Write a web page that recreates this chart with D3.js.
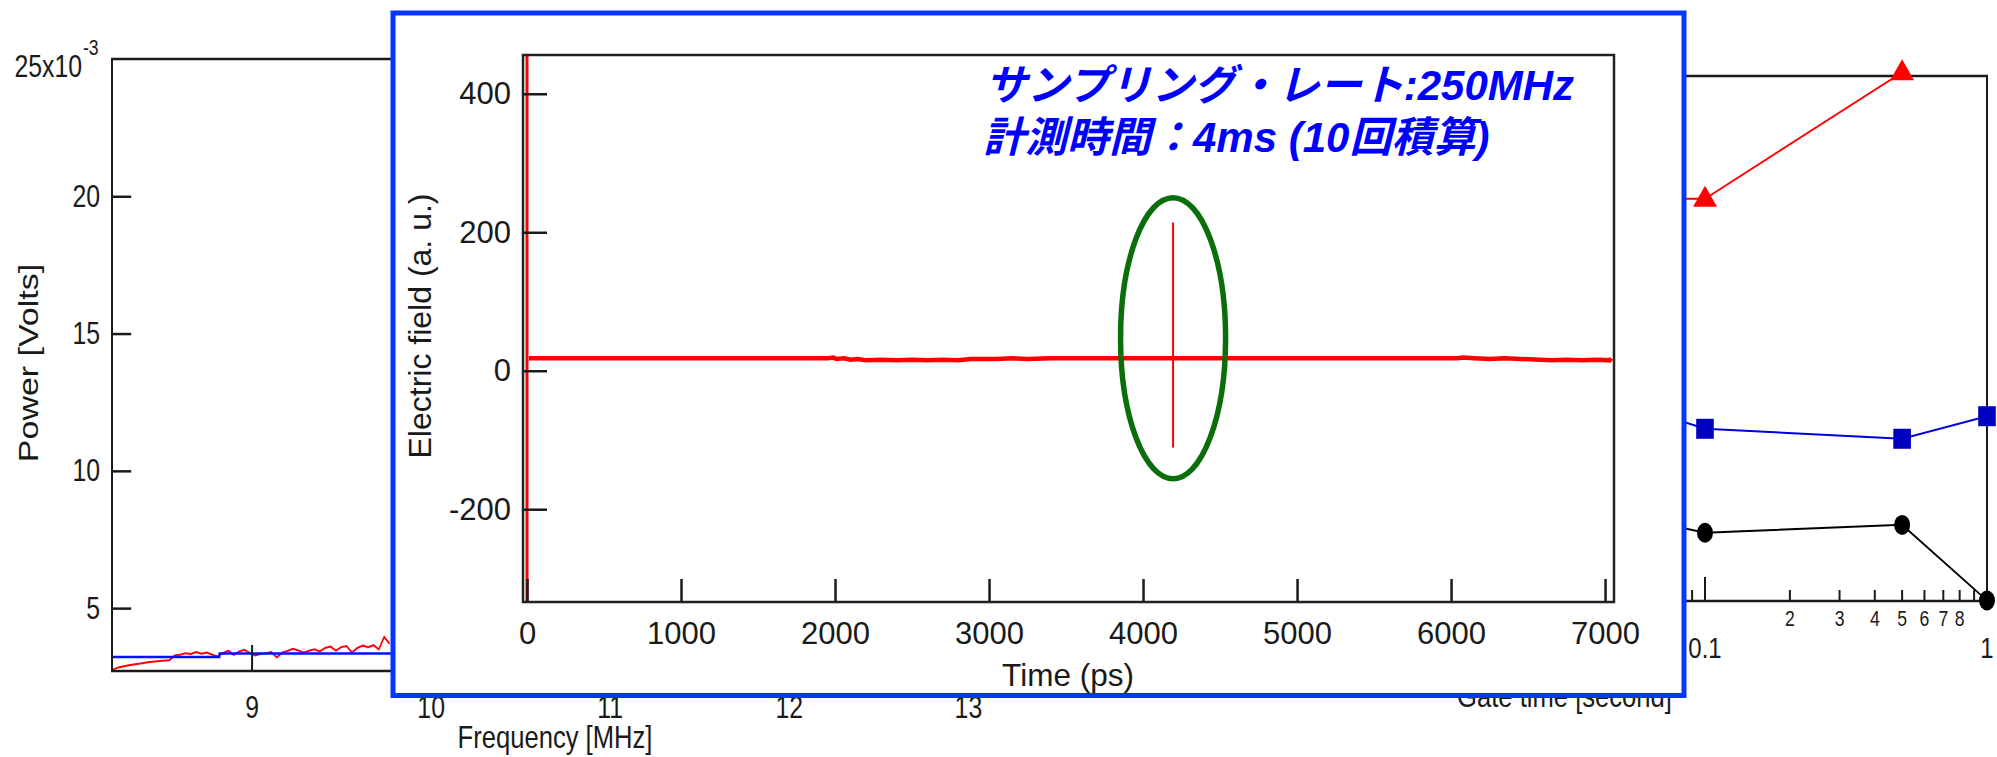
<!DOCTYPE html>
<html><head><meta charset="utf-8">
<script src="https://cdn.jsdelivr.net/npm/d3@7"></script>
<style>html,body{margin:0;padding:0;background:#fff;overflow:hidden}</style>
</head><body>
<svg id="c" width="1997" height="757"></svg>
<script>
// ================= DATA =================
// Background left chart: spectrum (Power in 10^-3 V vs Frequency MHz)
const specFreq = [8.22, 8.26, 8.30, 8.34, 8.38, 8.42, 8.46, 8.50, 8.54,
  8.57, 8.60, 8.63, 8.66, 8.69, 8.72, 8.75, 8.78, 8.81, 8.84,
  8.87, 8.90, 8.93, 8.96, 8.99, 9.02, 9.05, 9.08, 9.11, 9.14,
  9.17, 9.20, 9.23, 9.26, 9.29, 9.32, 9.35, 9.38, 9.41, 9.44,
  9.47, 9.50, 9.53, 9.56, 9.59, 9.62, 9.65, 9.68, 9.71, 9.74, 9.77];
const specPower = [2.75, 2.85, 2.90, 2.95, 2.98, 3.03, 3.06, 3.08, 3.10,
  3.28, 3.30, 3.36, 3.33, 3.40, 3.34, 3.38, 3.30, 3.24, 3.36,
  3.45, 3.30, 3.42, 3.48, 3.36, 3.28, 3.34, 3.36, 3.40, 3.20,
  3.38, 3.44, 3.52, 3.46, 3.38, 3.45, 3.50, 3.42, 3.55, 3.60,
  3.45, 3.58, 3.62, 3.38, 3.55, 3.64, 3.58, 3.65, 3.50, 3.95, 3.70];
const baseFreq = [8.22, 8.82, 8.82, 13.17];
const basePower = [3.22, 3.22, 3.35, 3.35];
const specXTicks = [9, 10, 11, 12, 13];
const specYTicks = [5, 10, 15, 20];

// Background right chart: vs gate time (hidden y axis, arbitrary units 0-100)
const gateRedT = [0.05, 0.1, 0.5];
const gateRedV = [76.6, 76.6, 100.7];
const gateBlueT = [0.05, 0.1, 0.5, 1];
const gateBlueV = [38.0, 32.8, 30.9, 35.2];
const gateBlackT = [0.05, 0.1, 0.5, 1];
const gateBlackV = [16.5, 13.0, 14.5, 0.1];
const gateMajor = [0.001, 0.01, 0.1, 1];
const gateMajorShown = [0.1, 1];
const gateMajorLabels = ["0.1", "1"];
const gateMinorDigits = [2, 3, 4, 5, 6, 7, 8, 9];
const gateMinorLabeled = [2, 3, 4, 5, 6, 7, 8];

// Inset: electric field trace (a.u.) vs time (ps)
const traceTime  = [12, 1950, 1990, 2010, 2060, 2100, 2150, 2200, 2300, 2400, 2500, 2600, 2700, 2800,
  2880, 2950, 3050, 3150, 3250, 3400, 6040, 6080, 6150, 6250, 6350, 6450, 6580, 6650, 6750, 6850, 6950, 7030, 7040];
const traceField = [18, 18, 19, 17, 18, 16, 17, 15, 16, 15, 16, 15, 16, 15,
  17, 17, 17, 18, 17, 18, 18, 19, 18, 17, 18, 17, 16, 15, 16, 15, 16, 15, 18];
const spikeTime = [0, 4195];
const spikeMax = [460, 214];
const spikeMin = [-340, -111];
const spikeWidth = [3, 2];
const insetXTicks = [0, 1000, 2000, 3000, 4000, 5000, 6000, 7000];
const insetYTicks = [-200, 0, 200, 400];
const highlight = {t: 4195, v: 47, rt: 341, rv: 203};
const notes = ["サンプリング・レート:250MHz", "計測時間：4ms (10回積算)"];

// ================= DRAW =================
const svg = d3.select('#c');
const FONT = '"Liberation Sans", Arial, Helvetica, sans-serif';
const SX = 0.8;            // background image horizontal squeeze
const INK = '#1a1a1a';
const plain = d => String(d);

function styleAxis(g, size) {
  g.select('.domain').remove();
  g.attr('font-size', size).attr('font-family', FONT).attr('color', INK);
  g.selectAll('.tick line').attr('stroke', INK).attr('stroke-width', 2.5);
}

// ---------- Left background chart ----------
const gL = svg.append('g').attr('transform', `scale(${SX},1)`);
const xL = d3.scaleLinear().domain([8.22, 13.17]).range([112 / SX, (252 + 4.17 * 179) / SX]);
const yL = d3.scaleLinear().domain([2.71, 25]).range([671, 59]);
const lineL = d3.line().x(d => xL(d[0])).y(d => yL(d[1]));

gL.append('path').datum(d3.zip(specFreq, specPower)).attr('d', lineL)
  .attr('fill', 'none').attr('stroke', '#ff0000').attr('stroke-width', 2);
gL.append('path').datum(d3.zip(baseFreq, basePower)).attr('d', lineL)
  .attr('fill', 'none').attr('stroke', '#0010ff').attr('stroke-width', 2.5);

gL.append('rect').attr('x', xL.range()[0]).attr('y', yL.range()[1])
  .attr('width', xL.range()[1] - xL.range()[0]).attr('height', yL.range()[0] - yL.range()[1])
  .attr('fill', 'none').attr('stroke', INK).attr('stroke-width', 2.5);

gL.append('g').attr('transform', `translate(${xL.range()[0]},0)`)
  .call(d3.axisLeft(yL).tickValues(specYTicks).tickFormat(plain).tickSize(-24).tickPadding(15))
  .call(g => styleAxis(g, 31));
gL.append('g').attr('transform', `translate(0,${yL.range()[0]})`)
  .call(d3.axisBottom(xL).tickValues(specXTicks).tickFormat(plain).tickSize(-26).tickPadding(25))
  .call(g => styleAxis(g, 31));

gL.append('text').attr('x', 82 / SX).attr('y', 77).attr('text-anchor', 'end')
  .attr('font-family', FONT).attr('font-size', 31).attr('fill', INK).text('25x10');
gL.append('text').attr('x', 83 / SX).attr('y', 55).attr('text-anchor', 'start')
  .attr('font-family', FONT).attr('font-size', 22).attr('fill', INK).text('-3');
gL.append('text').attr('transform', `translate(${28 / SX},363) rotate(-90)`).attr('dy', '0.35em')
  .attr('text-anchor', 'middle').attr('font-family', FONT).attr('font-size', 34).attr('fill', INK)
  .text('Power [Volts]');
gL.append('text').attr('x', 555 / SX).attr('y', 748).attr('text-anchor', 'middle')
  .attr('font-family', FONT).attr('font-size', 32).attr('fill', INK).text('Frequency [MHz]');

// ---------- Right background chart ----------
const gR = svg.append('g').attr('transform', `scale(${SX},1)`);
const xR = d3.scaleLog().domain([0.001, 1]).range([(1987 - 3 * 282) / SX, 1987 / SX]);
const yR = d3.scaleLinear().domain([0, 100]).range([601, 76]);
const lineR = d3.line().x(d => xR(d[0])).y(d => yR(d[1]));

gR.append('rect').attr('x', xR.range()[0]).attr('y', yR.range()[1])
  .attr('width', xR.range()[1] - xR.range()[0]).attr('height', yR.range()[0] - yR.range()[1])
  .attr('fill', 'none').attr('stroke', INK).attr('stroke-width', 2.5);

const minorVals = [];
gateMajor.slice(0, -1).forEach(m => gateMinorDigits.forEach(k => minorVals.push({v: m * k, k, m})));
gR.selectAll('line.mn').data(minorVals).join('line').attr('class', 'mn')
  .attr('x1', d => xR(d.v)).attr('x2', d => xR(d.v)).attr('y1', 601).attr('y2', 601 - 11)
  .attr('stroke', INK).attr('stroke-width', 2.5);
gR.selectAll('text.mn').data(minorVals.filter(d => d.m === 0.1 && gateMinorLabeled.includes(d.k))).join('text')
  .attr('class', 'mn').attr('x', d => xR(d.v)).attr('y', 626).attr('text-anchor', 'middle')
  .attr('font-family', FONT).attr('font-size', 22).attr('fill', INK).text(d => d.k);
gR.selectAll('line.mj').data(gateMajor).join('line').attr('class', 'mj')
  .attr('x1', d => xR(d)).attr('x2', d => xR(d)).attr('y1', 601).attr('y2', 601 - 24)
  .attr('stroke', INK).attr('stroke-width', 2.5);
gR.selectAll('text.mj').data(gateMajorShown).join('text').attr('class', 'mj')
  .attr('x', d => xR(d)).attr('y', 658).attr('text-anchor', 'middle')
  .attr('font-family', FONT).attr('font-size', 30).attr('fill', INK).text((d, i) => gateMajorLabels[i]);
gR.append('text').attr('x', 1564.5 / SX).attr('y', 707).attr('text-anchor', 'middle')
  .attr('font-family', FONT).attr('font-size', 32).attr('fill', INK).text('Gate time [second]');

const redPts = d3.zip(gateRedT, gateRedV), bluePts = d3.zip(gateBlueT, gateBlueV), blackPts = d3.zip(gateBlackT, gateBlackV);
gR.append('path').datum(redPts).attr('d', lineR).attr('fill', 'none').attr('stroke', '#ff0000').attr('stroke-width', 2);
gR.append('path').datum(bluePts).attr('d', lineR).attr('fill', 'none').attr('stroke', '#0000e0').attr('stroke-width', 2);
gR.append('path').datum(blackPts).attr('d', lineR).attr('fill', 'none').attr('stroke', '#000').attr('stroke-width', 2);
gR.selectAll('path.tri').data(redPts).join('path').attr('class', 'tri')
  .attr('transform', d => `translate(${xR(d[0])},${yR(d[1])})`)
  .attr('d', 'M0,-13L15,8L-15,8Z').attr('fill', '#ff0000');
gR.selectAll('rect.sq').data(bluePts).join('rect').attr('class', 'sq')
  .attr('x', d => xR(d[0]) - 11).attr('y', d => yR(d[1]) - 10).attr('width', 22).attr('height', 20)
  .attr('fill', '#0000c0');
gR.selectAll('ellipse.ci').data(blackPts).join('ellipse').attr('class', 'ci')
  .attr('cx', d => xR(d[0])).attr('cy', d => yR(d[1])).attr('rx', 10).attr('ry', 10).attr('fill', '#000');

// ---------- Inset ----------
const gI = svg.append('g');
gI.append('rect').attr('x', 393).attr('y', 13).attr('width', 1684 - 393).attr('height', 695.5 - 13)
  .attr('fill', '#fff').attr('stroke', '#0536ff').attr('stroke-width', 5);

const xI = d3.scaleLinear().domain([-26, 7058]).range([523, 1614]);
const yI = d3.scaleLinear().domain([-334, 456]).range([602, 55]);

svg.append('defs').append('clipPath').attr('id', 'clipI').append('rect')
  .attr('x', 523).attr('y', 55).attr('width', 1614 - 523).attr('height', 602 - 55);

const plot = gI.append('g').attr('clip-path', 'url(#clipI)');
plot.append('path').datum(d3.zip(traceTime, traceField))
  .attr('d', d3.line().x(d => xI(d[0])).y(d => yI(d[1])))
  .attr('fill', 'none').attr('stroke', '#ff0000').attr('stroke-width', 4.5);
plot.selectAll('line.sp').data(d3.range(spikeTime.length)).join('line').attr('class', 'sp')
  .attr('x1', i => xI(spikeTime[i])).attr('x2', i => xI(spikeTime[i]))
  .attr('y1', i => yI(spikeMax[i])).attr('y2', i => yI(spikeMin[i]))
  .attr('stroke', '#ff0000').attr('stroke-width', i => spikeWidth[i]);

gI.append('rect').attr('x', 523).attr('y', 55).attr('width', 1614 - 523).attr('height', 602 - 55)
  .attr('fill', 'none').attr('stroke', '#222').attr('stroke-width', 2.5);

gI.append('g').attr('transform', 'translate(523,0)')
  .call(d3.axisLeft(yI).tickValues(insetYTicks).tickFormat(plain).tickSize(-24).tickPadding(12))
  .call(g => styleAxis(g, 31));
gI.append('g').attr('transform', 'translate(0,602)')
  .call(d3.axisBottom(xI).tickValues(insetXTicks).tickFormat(plain).tickSize(-23).tickPadding(20))
  .call(g => styleAxis(g, 31));

gI.append('text').attr('transform', 'translate(420,326) rotate(-90)').attr('dy', '0.35em')
  .attr('text-anchor', 'middle').attr('font-family', FONT).attr('font-size', 32).attr('fill', INK)
  .text('Electric field (a. u.)');
gI.append('text').attr('x', 1068).attr('y', 686).attr('text-anchor', 'middle')
  .attr('font-family', FONT).attr('font-size', 31.5).attr('fill', INK).text('Time (ps)');

gI.append('ellipse').attr('cx', xI(highlight.t)).attr('cy', yI(highlight.v))
  .attr('rx', xI(highlight.t + highlight.rt) - xI(highlight.t))
  .attr('ry', yI(highlight.v - highlight.rv) - yI(highlight.v))
  .attr('fill', 'none').attr('stroke', '#0a6e0a').attr('stroke-width', 5.5);

gI.selectAll('text.note').data(notes).join('text').attr('class', 'note')
  .attr('x', (d, i) => [985, 983][i]).attr('y', (d, i) => [100, 152][i])
  .attr('font-family', '"Liberation Sans", Arial, "Noto Sans CJK JP", sans-serif')
  .attr('font-size', 42).attr('font-weight', 'bold').attr('font-style', 'italic')
  .attr('fill', '#0000ff').text(d => d);
</script>
</body></html>
